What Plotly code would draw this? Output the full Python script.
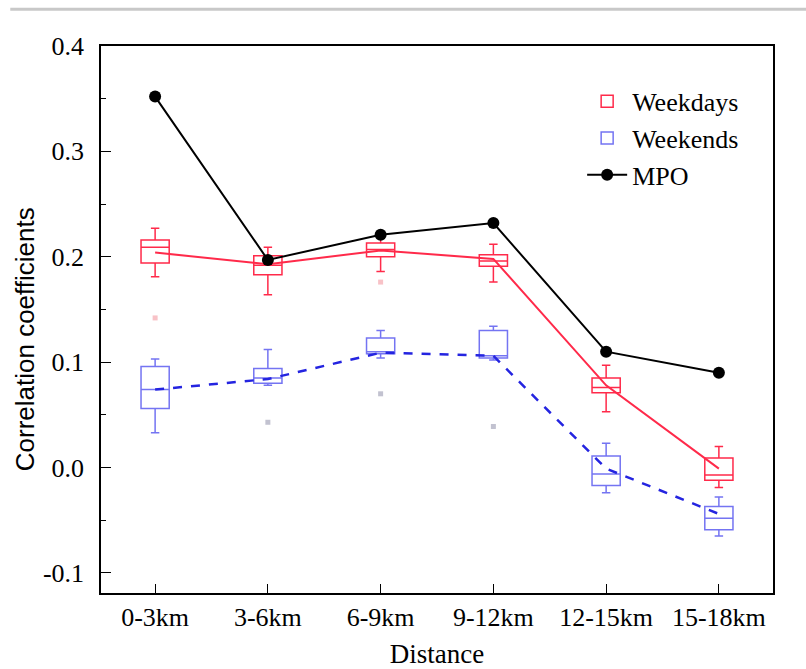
import plotly.graph_objects as go

categories = ["0-3km", "3-6km", "6-9km", "9-12km", "12-15km", "15-18km"]

# Weekdays box statistics
wd_lower = [0.181, 0.164, 0.186, 0.176, 0.053, -0.019]
wd_q1 = [0.194, 0.183, 0.200, 0.191, 0.071, -0.012]
wd_median = [0.209, 0.192, 0.207, 0.196, 0.076, -0.007]
wd_q3 = [0.216, 0.201, 0.213, 0.202, 0.085, 0.009]
wd_upper = [0.227, 0.209, 0.219, 0.212, 0.097, 0.020]
wd_mean = [0.204, 0.193, 0.206, 0.198, 0.078, -0.001]

# Weekends box statistics
we_lower = [0.033, 0.078, 0.104, 0.102, -0.024, -0.065]
we_q1 = [0.056, 0.080, 0.108, 0.104, -0.017, -0.059]
we_median = [0.074, 0.085, 0.110, 0.106, -0.006, -0.048]
we_q3 = [0.096, 0.094, 0.123, 0.130, 0.011, -0.037]
we_upper = [0.103, 0.112, 0.130, 0.134, 0.023, -0.028]
we_mean = [0.074, 0.084, 0.109, 0.106, -0.001, -0.044]

# Outliers
wd_out_x = ["0-3km", "6-9km"]
wd_out_y = [0.142, 0.176]
we_out_x = ["3-6km", "6-9km", "9-12km"]
we_out_y = [0.043, 0.070, 0.039]

# MPO
mpo = [0.352, 0.197, 0.221, 0.232, 0.110, 0.090]

RED = "#ff2a4a"
BLUE = "#2424e0"
BLUE_BOX = "#7474f2"
FONT = "Liberation Serif, DejaVu Serif, serif"
SANS = "Liberation Sans, Arial, sans-serif"

fig = go.Figure()

fig.add_trace(go.Box(
    name="Weekdays", x=categories, q1=wd_q1, median=wd_median, q3=wd_q3,
    lowerfence=wd_lower, upperfence=wd_upper,
    width=0.25, whiskerwidth=0.3, line=dict(color=RED, width=1.5),
    fillcolor="rgba(0,0,0,0)", boxpoints=False, legendgroup="wd"))
fig.add_trace(go.Box(
    name="Weekends", x=categories, q1=we_q1, median=we_median, q3=we_q3,
    lowerfence=we_lower, upperfence=we_upper,
    width=0.25, whiskerwidth=0.3, line=dict(color=BLUE_BOX, width=1.5),
    fillcolor="rgba(0,0,0,0)", boxpoints=False, legendgroup="we"))

fig.add_trace(go.Scatter(
    x=categories, y=wd_mean, mode="lines", line=dict(color=RED, width=2),
    showlegend=False, legendgroup="wd", hoverinfo="skip"))
fig.add_trace(go.Scatter(
    x=categories, y=we_mean, mode="lines", line=dict(color=BLUE, width=2.5, dash="dash"),
    showlegend=False, legendgroup="we", hoverinfo="skip"))

fig.add_trace(go.Scatter(
    x=wd_out_x, y=wd_out_y, mode="markers",
    marker=dict(color="rgba(240,120,130,0.45)", size=5, symbol="square"),
    showlegend=False))
fig.add_trace(go.Scatter(
    x=we_out_x, y=we_out_y, mode="markers",
    marker=dict(color="rgba(120,120,150,0.45)", size=5, symbol="square"),
    showlegend=False))

fig.add_trace(go.Scatter(
    name="MPO", x=categories, y=mpo, mode="lines+markers",
    line=dict(color="black", width=2), marker=dict(color="black", size=12)))

fig.update_layout(
    width=806, height=669,
    margin=dict(l=101, r=33, t=46, b=76),
    paper_bgcolor="white", plot_bgcolor="white",
    boxmode="overlay",
    font=dict(family=FONT, size=26, color="black"),
    legend=dict(x=0.716, y=0.942, xanchor="left", yanchor="top",
                bgcolor="rgba(0,0,0,0)", font=dict(family=FONT, size=26), tracegroupgap=0,
                itemwidth=40),
    shapes=[dict(type="line", xref="paper", yref="paper",
                 x0=-0.135, x1=1.05, y0=1.067, y1=1.067,
                 line=dict(color="#c8c8c8", width=3))],
    annotations=[dict(text="Correlation coefficients", xref="paper", yref="paper",
                      x=-0.113, y=0.464, textangle=-90, showarrow=False,
                      xanchor="center", yanchor="middle",
                      font=dict(family=SANS, size=26, color="black"))],
)

fig.update_xaxes(
    type="category", categoryorder="array", categoryarray=categories,
    range=[-0.48, 5.48], automargin=False,
    showline=True, linecolor="black", linewidth=1.5, mirror=True,
    ticks="inside", ticklen=9, tickwidth=1.2, tickcolor="black",
    ticklabelstandoff=0, tickfont=dict(family=FONT, size=26),
    title=dict(text="Distance", font=dict(family=FONT, size=27), standoff=13),
    showgrid=False, zeroline=False)

fig.update_yaxes(
    range=[-0.119, 0.4], automargin=False,
    tickvals=[-0.1, 0.0, 0.1, 0.2, 0.3, 0.4],
    ticktext=["-0.1", "0.0", "0.1", "0.2", "0.3", "0.4"],
    showline=True, linecolor="black", linewidth=1.5, mirror=True,
    ticks="inside", ticklen=10, tickwidth=1.2, tickcolor="black",
    minor=dict(ticks="inside", ticklen=5, tickvals=[-0.05, 0.05, 0.15, 0.25, 0.35], tickcolor="black"),
    ticklabelstandoff=10, tickfont=dict(family=FONT, size=26),
    showgrid=False, zeroline=False)

fig.write_html("out.html")
